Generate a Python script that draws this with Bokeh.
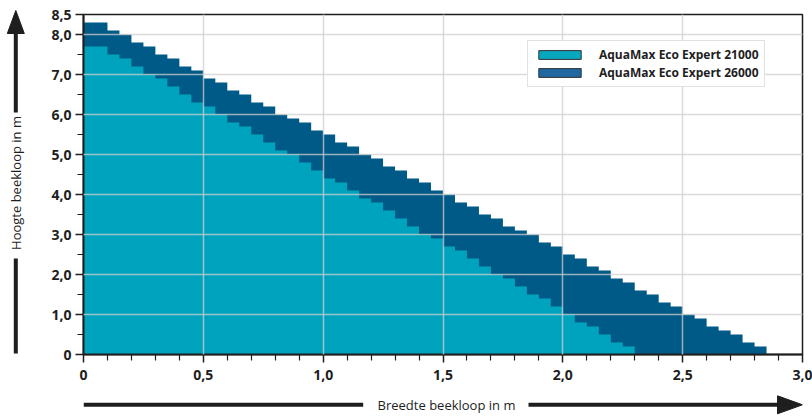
import math
import numpy as np
from bokeh.plotting import figure
from bokeh.layouts import row, column
from bokeh.models import FixedTicker, Legend, LegendItem, Range1d
from bokeh.core.properties import value
from bokeh.embed import file_html
from bokeh.resources import INLINE

# ---------------- data ----------------
series_names = ["AquaMax Eco Expert 21000", "AquaMax Eco Expert 26000"]

# AquaMax Eco Expert 26000: step start (Breedte, m) and Hoogte (m)
breedte_26000 = [0.00, 0.10, 0.15, 0.20, 0.25, 0.30, 0.35, 0.40, 0.45, 0.50,
                 0.55, 0.60, 0.65, 0.70, 0.75, 0.80, 0.85, 0.90, 0.95, 1.00,
                 1.05, 1.10, 1.15, 1.20, 1.25, 1.30, 1.35, 1.40, 1.45, 1.50,
                 1.55, 1.60, 1.65, 1.70, 1.75, 1.80, 1.85, 1.90, 1.95, 2.00,
                 2.05, 2.10, 2.15, 2.20, 2.25, 2.30, 2.35, 2.40, 2.45, 2.50,
                 2.55, 2.60, 2.65, 2.70, 2.75, 2.80]
hoogte_26000 = [8.3, 8.1, 8.0, 7.8, 7.7, 7.5, 7.4, 7.2, 7.1, 6.9,
                6.8, 6.6, 6.5, 6.3, 6.2, 6.0, 5.9, 5.8, 5.6, 5.5,
                5.3, 5.2, 5.0, 4.9, 4.7, 4.6, 4.4, 4.3, 4.1, 4.0,
                3.8, 3.7, 3.5, 3.4, 3.2, 3.1, 3.0, 2.8, 2.7, 2.5,
                2.4, 2.2, 2.1, 1.9, 1.8, 1.6, 1.5, 1.3, 1.2, 1.0,
                0.9, 0.7, 0.6, 0.5, 0.3, 0.2]
eind_26000 = 2.85

# AquaMax Eco Expert 21000
breedte_21000 = [0.00, 0.10, 0.15, 0.20, 0.25, 0.30, 0.35, 0.40, 0.45, 0.50,
                 0.55, 0.60, 0.65, 0.70, 0.75, 0.80, 0.85, 0.90, 0.95, 1.00,
                 1.05, 1.10, 1.15, 1.20, 1.25, 1.30, 1.35, 1.40, 1.45, 1.50,
                 1.55, 1.60, 1.65, 1.70, 1.75, 1.80, 1.85, 1.90, 1.95, 2.00,
                 2.05, 2.10, 2.15, 2.20, 2.25]
hoogte_21000 = [7.7, 7.5, 7.4, 7.2, 7.0, 6.9, 6.7, 6.5, 6.3, 6.2,
                6.0, 5.8, 5.7, 5.5, 5.3, 5.1, 5.0, 4.8, 4.6, 4.4,
                4.3, 4.1, 3.9, 3.8, 3.6, 3.4, 3.2, 3.0, 2.9, 2.7,
                2.6, 2.4, 2.2, 2.0, 1.9, 1.7, 1.5, 1.4, 1.2, 1.0,
                0.8, 0.7, 0.5, 0.3, 0.2]
eind_21000 = 2.30

x_ticks = [0, 0.5, 1.0, 1.5, 2.0, 2.5, 3.0]
x_tick_labels = ["0", "0,5", "1,0", "1,5", "2,0", "2,5", "3,0"]
x_minor_ticks = [0.1, 0.2, 0.3, 0.4, 0.6, 0.7, 0.8, 0.9, 1.1, 1.2, 1.3, 1.4,
                 1.6, 1.7, 1.8, 1.9, 2.1, 2.2, 2.3, 2.4, 2.6, 2.7, 2.8, 2.9]
y_ticks = [0, 1, 2, 3, 4, 5, 6, 7, 8, 8.5]
y_tick_labels = ["0", "1,0", "2,0", "3,0", "4,0", "5,0", "6,0", "7,0", "8,0", "8,5"]
y_minor_ticks = [0.5, 1.5, 2.5, 3.5, 4.5, 5.5, 6.5, 7.5]

x_title = "Breedte beekloop in m"
y_title = "Hoogte beekloop in m"

# ---------------- styles / layout ----------------
LIGHT = "#00a3bd"
DARK = "#005a87"
LEG_LIGHT = "#08a6bf"
LEG_DARK = "#1f68a2"
INK = "#1e1e1e"
FONT = "Open Sans"

W_TOTAL, H_TOTAL = 812, 416
W_LEFT = 30
W_MAIN = W_TOTAL - W_LEFT
H_MAIN = 388
B_LEFT, B_RIGHT, B_TOP, B_BOTTOM = 53, 10, 14, H_MAIN - 14 - 340
FRAME_L = W_LEFT + B_LEFT
FRAME_R = W_TOTAL - B_RIGHT


def step_outline(starts, heights, end):
    xs = [starts[0]]
    ys = [0]
    for i, h in enumerate(heights):
        x0 = starts[i]
        x1 = starts[i + 1] if i + 1 < len(starts) else end
        xs += [x0, x1]
        ys += [h, h]
    xs.append(end)
    ys.append(0)
    return xs, ys


def blank_fig(w, h, xr, yr, bl=0, br=0):
    f = figure(width=w, height=h, title=None, x_range=xr, y_range=yr,
               output_backend="svg", toolbar_location=None,
               x_axis_location=None, y_axis_location=None,
               min_border=0, min_border_left=bl, min_border_right=br,
               min_border_top=0, min_border_bottom=0)
    f.grid.visible = False
    f.outline_line_color = None
    f.background_fill_color = "white"
    f.border_fill_color = "white"
    return f


# ---------------- main chart ----------------
p = figure(width=W_MAIN, height=H_MAIN, title=None,
           x_range=Range1d(0, 3.0), y_range=Range1d(0, 8.5),
           output_backend="svg", toolbar_location=None,
           min_border_left=B_LEFT, min_border_right=B_RIGHT,
           min_border_top=B_TOP, min_border_bottom=B_BOTTOM)
p.background_fill_color = "white"
p.border_fill_color = "white"
p.outline_line_color = INK
p.outline_line_width = 1.5

xs26, ys26 = step_outline(breedte_26000, hoogte_26000, eind_26000)
xs21, ys21 = step_outline(breedte_21000, hoogte_21000, eind_21000)
p.patch(xs26, ys26, fill_color=DARK, line_color=None)
p.patch(xs21, ys21, fill_color=LIGHT, line_color=None)

p.xgrid.ticker = FixedTicker(ticks=x_ticks)
p.ygrid.ticker = FixedTicker(ticks=y_ticks)
for g in (p.xgrid, p.ygrid):
    g.grid_line_color = "#cfcfcf"
    g.grid_line_alpha = 0.75
    g.grid_line_width = 1.5
    g.level = "overlay"

p.xaxis.ticker = FixedTicker(ticks=x_ticks, minor_ticks=x_minor_ticks)
p.yaxis.ticker = FixedTicker(ticks=y_ticks, minor_ticks=y_minor_ticks)
p.xaxis.major_label_overrides = dict(zip(x_ticks, x_tick_labels))
p.yaxis.major_label_overrides = dict(zip(y_ticks, y_tick_labels))
for ax in (p.xaxis, p.yaxis):
    ax.axis_line_color = INK
    ax.axis_line_width = 2
    ax.major_tick_line_color = INK
    ax.major_tick_line_width = 1.5
    ax.minor_tick_line_color = INK
    ax.minor_tick_line_width = 1.2
    ax.major_tick_in = 0
    ax.major_tick_out = 8
    ax.minor_tick_in = 0
    ax.minor_tick_out = 6
    ax.major_label_text_font = FONT
    ax.major_label_text_font_style = "bold"
    ax.major_label_text_font_size = "14px"
    ax.major_label_text_color = INK
p.xaxis.major_label_standoff = 7
p.yaxis.major_label_standoff = 4

nan = np.array([np.nan])
r_l = p.quad(left=nan, right=nan, top=nan, bottom=nan, fill_color=LEG_LIGHT,
             line_color="#333333", line_width=1)
r_d = p.quad(left=nan, right=nan, top=nan, bottom=nan, fill_color=LEG_DARK,
             line_color="#333333", line_width=1)
legend = Legend(items=[LegendItem(label=series_names[0], renderers=[r_l]),
                       LegendItem(label=series_names[1], renderers=[r_d])],
                location=(444, 267), glyph_width=53, glyph_height=11,
                label_standoff=13, label_height=15, label_width=154,
                spacing=1, padding=5, margin=0,
                border_line_color="#c4c4c4", border_line_width=1.5,
                label_text_font=FONT, label_text_font_style="bold",
                label_text_font_size="12px", label_text_color=INK,
                label_text_baseline="middle",
                background_fill_color="white", background_fill_alpha=1)
p.add_layout(legend)

# ---------------- vertical axis arrow (left strip, page pixels) ----------------
pl = blank_fig(W_LEFT, H_TOTAL, Range1d(0, W_LEFT), Range1d(H_TOTAL, 0))
ax_x = 15.3
pl.segment(x0=[ax_x, ax_x], y0=[353, 112], x1=[ax_x, ax_x], y1=[258, 28],
           line_color=INK, line_width=4)
pl.patch([ax_x - 8.5, ax_x, ax_x + 8.5], [33, 10, 33], fill_color=INK, line_color=INK)
pl.text(x=[ax_x], y=[182.5], text=[y_title], angle=math.pi / 2,
        text_align="center", text_baseline="middle",
        text_font=value(FONT), text_font_size="13px", text_color=INK)

# ---------------- horizontal axis arrow (bottom strip, page pixels) ----------------
pb = blank_fig(W_MAIN, H_TOTAL - H_MAIN, Range1d(FRAME_L, FRAME_R),
               Range1d(H_TOTAL, H_MAIN), bl=B_LEFT, br=B_RIGHT)
ay = 404.3
pb.segment(x0=[FRAME_L, 528], y0=[ay, ay], x1=[362.7, 780], y1=[ay, ay],
           line_color=INK, line_width=4)
pb.patch([777, 802, 777], [ay - 9, ay, ay + 9], fill_color=INK, line_color=INK)
pb.text(x=[446], y=[ay], text=[x_title], text_align="center",
        text_baseline="middle", text_font=value(FONT), text_font_size="13px",
        text_color=INK)

layout = row(pl, column(p, pb, spacing=0), spacing=0)
open("out.html", "w").write(file_html(layout, INLINE))
